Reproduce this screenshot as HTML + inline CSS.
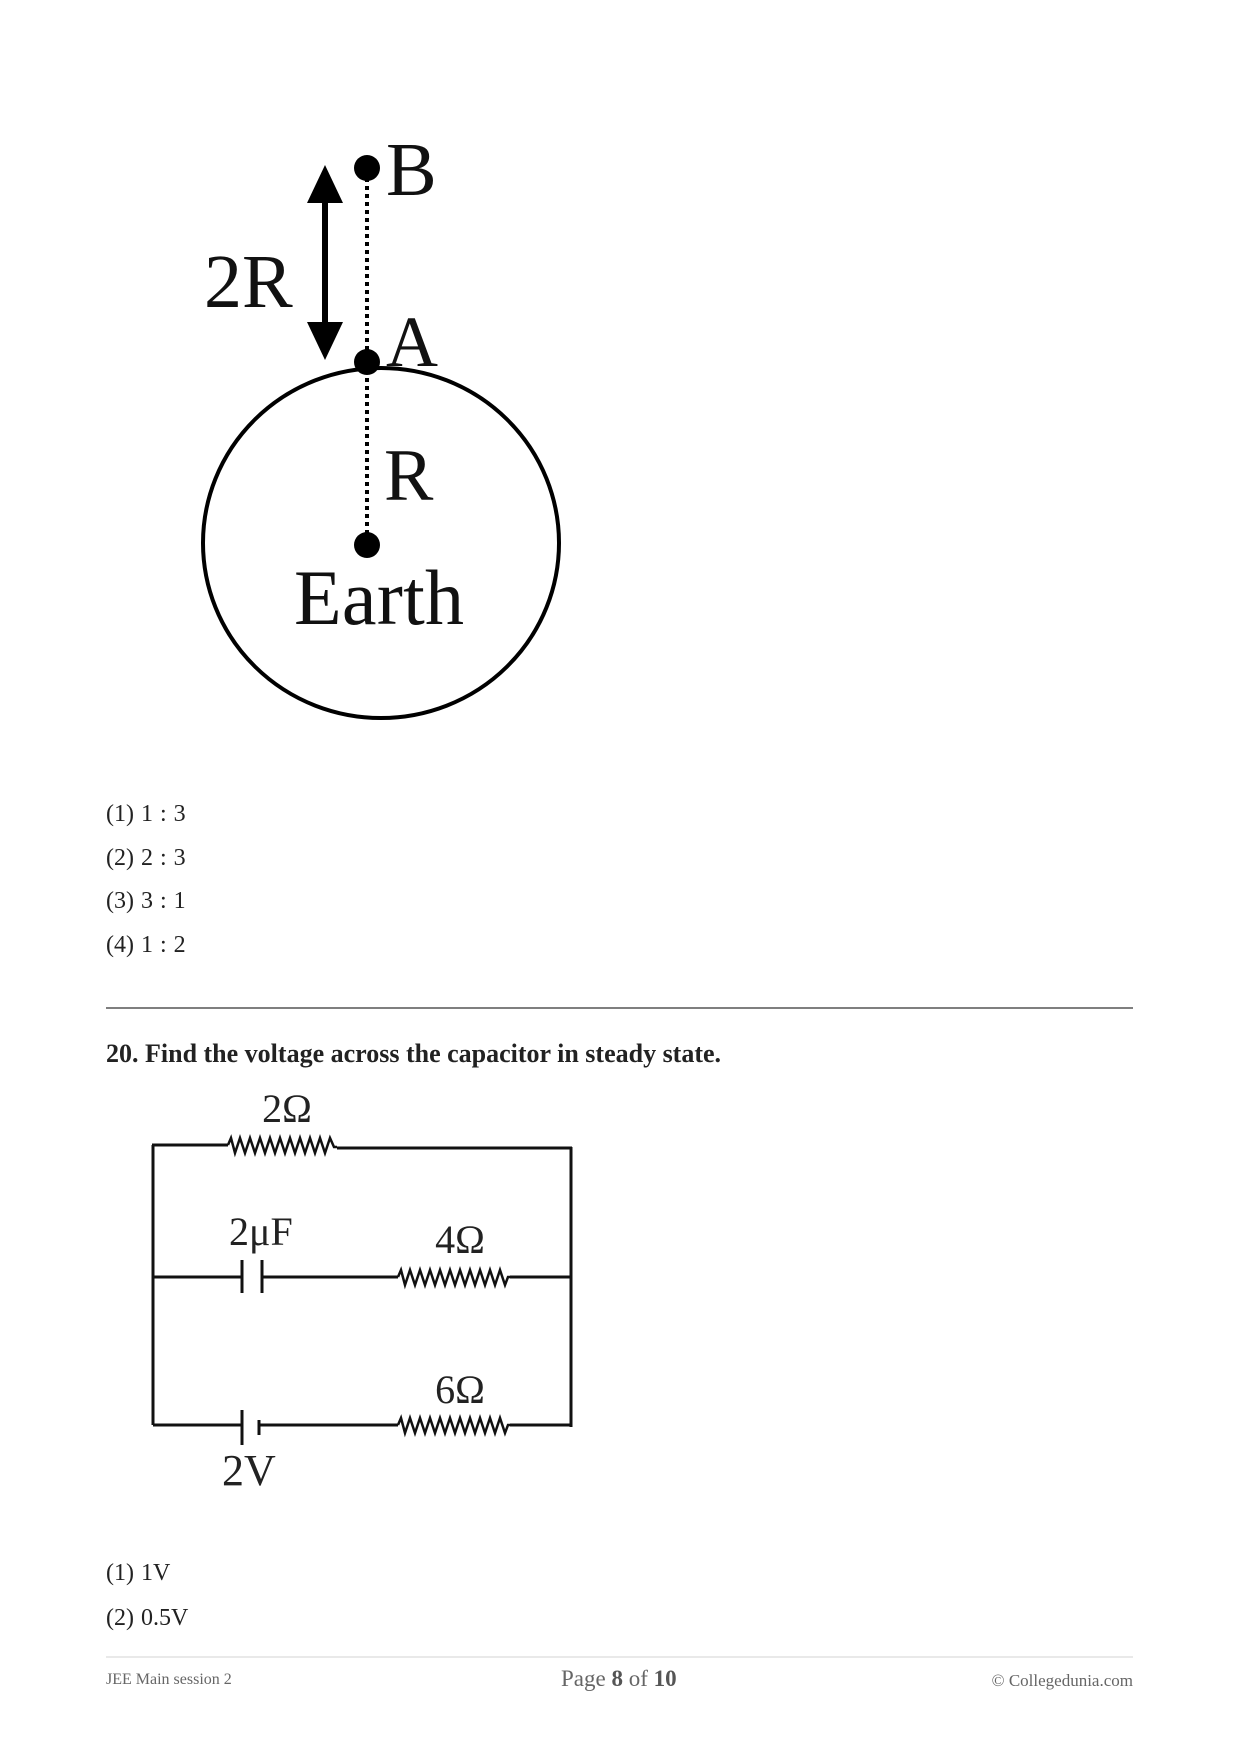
<!DOCTYPE html>
<html><head><meta charset="utf-8"><style>
html,body{margin:0;padding:0;background:#fff;}
body{width:1240px;height:1754px;position:relative;overflow:hidden;font-family:"Liberation Serif",serif;color:#222;}
.t{position:absolute;white-space:nowrap;}
.opt{position:absolute;left:106px;font-size:24px;line-height:24px;word-spacing:1px;}
</style></head><body>
<svg width="1240" height="1754" style="position:absolute;left:0;top:0" font-family="Liberation Serif, serif">
  <ellipse cx="381" cy="543" rx="178" ry="175" fill="none" stroke="#000" stroke-width="4"/>
  <line x1="367" y1="170" x2="367" y2="545" stroke="#000" stroke-width="4" stroke-dasharray="4,4"/>
  <circle cx="367" cy="168" r="13" fill="#000"/>
  <circle cx="367" cy="362" r="13" fill="#000"/>
  <circle cx="367" cy="545" r="13" fill="#000"/>
  <line x1="325" y1="195" x2="325" y2="330" stroke="#000" stroke-width="6"/>
  <polygon points="325,165 307,203 343,203" fill="#000"/>
  <polygon points="325,360 307,322 343,322" fill="#000"/>
  <text x="204" y="307" font-size="76" fill="#111">2R</text>
  <text x="386" y="195" font-size="76" fill="#111">B</text>
  <text x="386" y="366" font-size="72" fill="#111">A</text>
  <text x="384" y="500" font-size="74" fill="#111">R</text>
  <text x="294" y="624" font-size="78" fill="#111" textLength="170">Earth</text>

  <line x1="106" y1="1008" x2="1133" y2="1008" stroke="#555" stroke-width="1.5"/>

  <g stroke="#111" stroke-width="3" fill="none">
    <line x1="153" y1="1145" x2="153" y2="1425"/>
    <line x1="571" y1="1147" x2="571" y2="1427"/>
    <line x1="152" y1="1145" x2="228" y2="1145"/>
    <polyline points="228,1145 231,1138 235,1153 240,1138 245,1153 250,1138 255,1153 260,1138 265,1153 270,1138 275,1153 280,1138 285,1153 290,1138 295,1153 300,1138 305,1153 310,1138 315,1153 320,1138 325,1153 330,1138 334,1147 337,1147" stroke-width="2.5"/>
    <line x1="337" y1="1148" x2="572" y2="1148"/>
    <line x1="153" y1="1277" x2="242" y2="1277"/>
    <line x1="242" y1="1260" x2="242" y2="1293"/>
    <line x1="262" y1="1260" x2="262" y2="1293"/>
    <line x1="262" y1="1277" x2="398" y2="1277"/>
    <polyline points="398,1277 401,1270 405,1285 410,1270 415,1285 420,1270 425,1285 430,1270 435,1285 440,1270 445,1285 450,1270 455,1285 460,1270 465,1285 470,1270 475,1285 480,1270 485,1285 490,1270 495,1285 500,1270 505,1285 508,1277 510,1277" stroke-width="2.5"/>
    <line x1="510" y1="1277" x2="572" y2="1277"/>
    <line x1="153" y1="1425" x2="242" y2="1425"/>
    <line x1="242" y1="1410" x2="242" y2="1445"/>
    <line x1="259" y1="1420" x2="259" y2="1435"/>
    <line x1="259" y1="1425" x2="398" y2="1425"/>
    <polyline points="398,1425 401,1418 405,1433 410,1418 415,1433 420,1418 425,1433 430,1418 435,1433 440,1418 445,1433 450,1418 455,1433 460,1418 465,1433 470,1418 475,1433 480,1418 485,1433 490,1418 495,1433 500,1418 505,1433 508,1425 510,1425" stroke-width="2.5"/>
    <line x1="510" y1="1425" x2="572" y2="1425"/>
  </g>
  <g font-size="40" fill="#222">
    <text x="287" y="1122" text-anchor="middle">2Ω</text>
    <text x="229" y="1245">2μF</text>
    <text x="460" y="1253" text-anchor="middle">4Ω</text>
    <text x="460" y="1403" text-anchor="middle">6Ω</text>
    <text x="222" y="1485" font-size="44">2V</text>
  </g>
  <line x1="106" y1="1657" x2="1133" y2="1657" stroke="#e2e2e2" stroke-width="1.5"/>
</svg>

<div class="opt" style="top:802px">(1) 1 : 3</div>
<div class="opt" style="top:846px">(2) 2 : 3</div>
<div class="opt" style="top:889px">(3) 3 : 1</div>
<div class="opt" style="top:933px">(4) 1 : 2</div>

<div class="t" style="left:106px;top:1039px;font-size:26px;font-weight:bold;line-height:30px;">20. Find the voltage across the capacitor in steady state.</div>

<div class="opt" style="top:1561px">(1) 1V</div>
<div class="opt" style="top:1606px">(2) 0.5V</div>

<div class="t" style="left:106px;top:1671px;font-size:16px;color:#666;">JEE Main session 2</div>
<div class="t" style="left:561px;top:1666px;font-size:23px;color:#666;">Page <b style="color:#555">8</b> of <b style="color:#555">10</b></div>
<div class="t" style="right:107px;top:1671px;font-size:17px;color:#666;">© Collegedunia.com</div>
</body></html>
